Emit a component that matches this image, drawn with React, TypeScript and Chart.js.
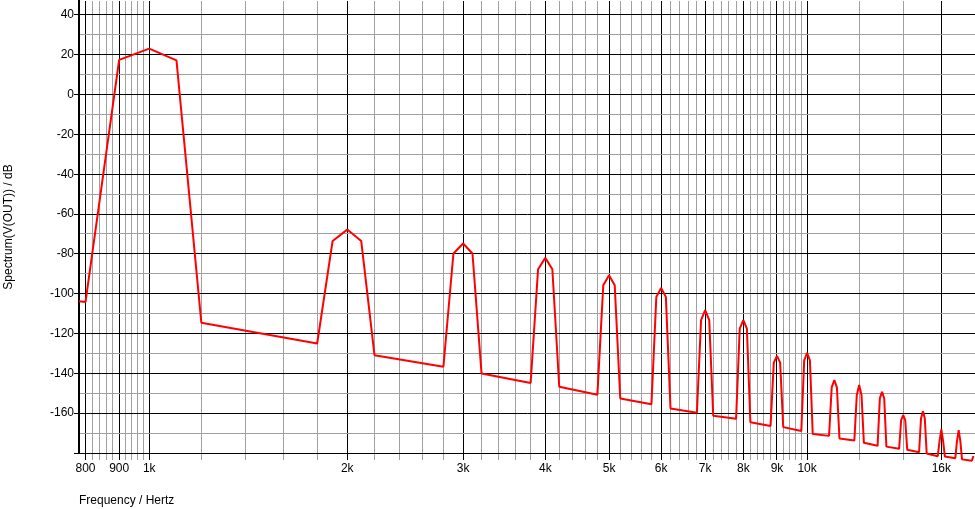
import React, { useEffect, useRef } from 'react';
import { Chart, registerables } from 'chart.js';

Chart.register(...registerables);

// Spectrum vertices (Hz, dB)
const freqHz = [
  700, 800, 900, 1000, 1100, 1200,
  1800, 1900, 2000, 2100, 2200,
  2800, 2900, 3000, 3100, 3200,
  3800, 3900, 4000, 4100, 4200,
  4800, 4900, 5000, 5100, 5200,
  5800, 5900, 6000, 6100, 6200,
  6800, 6900, 7000, 7100, 7200,
  7800, 7900, 8000, 8100, 8200,
  8800, 8900, 9000, 9100, 9200,
  9800, 9900, 10000, 10100, 10200,
  10800, 10900, 11000, 11100, 11200,
  11800, 11900, 12000, 12100, 12200,
  12800, 12900, 13000, 13100, 13200,
  13800, 13900, 14000, 14100, 14200,
  14800, 14900, 15000, 15100, 15200,
  15800, 15900, 16000, 16100, 16200,
  16800, 16900, 17000, 17100, 17200,
  17800, 17900,
];

const spectrumDb = [
  -101.5, -104.2, 17.4, 23.1, 17.2, -114.6,
  -125.0, -73.5, -67.8, -73.5, -130.9,
  -136.7, -79.8, -74.8, -79.8, -140.1,
  -144.8, -87.7, -82.0, -87.7, -146.7,
  -150.7, -95.7, -90.7, -95.7, -152.6,
  -155.5, -101.6, -97.1, -101.6, -157.6,
  -159.8, -113.3, -108.3, -113.3, -161.3,
  -162.8, -117.5, -113.3, -117.5, -164.6,
  -166.4, -134.6, -131.2, -134.6, -167.0,
  -168.9, -133.5, -129.7, -133.5, -170.4,
  -171.4, -147.0, -143.4, -147.0, -172.7,
  -173.7, -151.0, -145.9, -151.0, -174.9,
  -176.4, -152.6, -149.3, -152.6, -176.8,
  -177.9, -163.5, -161.0, -163.5, -178.4,
  -179.6, -162.7, -159.0, -162.7, -180.3,
  -181.6, -174.0, -168.2, -174.0, -181.8,
  -182.6, -174.0, -168.5, -174.0, -183.2,
  -183.9, -181.5,
];

// Axis definitions
const xMin = 782;
const xMax = 18000;
const xMajorTicks = [800, 900, 1000, 2000, 3000, 4000, 5000, 6000, 7000, 8000, 9000, 10000, 16000];
const xTickLabels = ['800', '900', '1k', '2k', '3k', '4k', '5k', '6k', '7k', '8k', '9k', '10k', '16k'];
const xMinorTicks = [
  820, 840, 860, 880, 920, 940, 960, 980,
  1200, 1400, 1600, 1800,
  2200, 2400, 2600, 2800, 3200, 3400, 3600, 3800,
  4200, 4400, 4600, 4800, 5200, 5400, 5600, 5800,
  6200, 6400, 6600, 6800, 7200, 7400, 7600, 7800,
  8200, 8400, 8600, 8800, 9200, 9400, 9600, 9800,
  12000, 14000,
];

const yMin = -180;
const yMax = 47;
const yGridValues = [40, 30, 20, 10, 0, -10, -20, -30, -40, -50, -60, -70, -80, -90, -100, -110, -120, -130, -140, -150, -160, -170, -180];
const yMajorValues = [40, 20, 0, -20, -40, -60, -80, -100, -120, -140, -160, -180];
const yTickLabels = ['40', '20', '0', '-20', '-40', '-60', '-80', '-100', '-120', '-140', '-160', ''];

const FONT = "'Liberation Sans', Arial, sans-serif";
const GRID_MINOR = '#a0a0a0';
const GRID_MAJOR = '#000000';

export default function App() {
  const canvasRef = useRef<HTMLCanvasElement | null>(null);

  useEffect(() => {
    const canvas = canvasRef.current;
    if (!canvas) return;

    const xLabelMap = new Map<number, string>();
    xMajorTicks.forEach((v, i) => xLabelMap.set(v, xTickLabels[i]));
    const yLabelMap = new Map<number, string>();
    yMajorValues.forEach((v, i) => yLabelMap.set(v, yTickLabels[i]));
    const xAll = [...xMajorTicks, ...xMinorTicks].sort((a, b) => a - b);

    const chart = new Chart(canvas, {
      type: 'line',
      data: {
        datasets: [
          {
            data: freqHz.map((f, i) => ({ x: f, y: spectrumDb[i] })),
            borderColor: '#ff0000',
            borderWidth: 2,
            pointRadius: 0,
            tension: 0,
            fill: false,
            borderJoinStyle: 'bevel',
            clip: { left: 0, top: 0, right: 0, bottom: 20 } as any,
          },
        ],
      },
      options: {
        animation: false,
        responsive: false,
        devicePixelRatio: 1,
        layout: { padding: { top: 1, right: 0, left: 0, bottom: 0 } },
        plugins: {
          legend: { display: false },
          tooltip: { enabled: false },
        },
        scales: {
          x: {
            type: 'logarithmic',
            min: xMin,
            max: xMax,
            afterBuildTicks: (scale: any) => {
              scale.ticks = xAll.map((v) => ({ value: v }));
            },
            afterFit: (scale: any) => {
              scale.height = 56;
              scale.paddingLeft = 0;
              scale.paddingRight = 0;
            },
            ticks: {
              autoSkip: false,
              maxRotation: 0,
              minRotation: 0,
              padding: 1,
              color: '#000',
              font: { family: FONT, size: 12 },
              callback: (value: any) => xLabelMap.get(Number(value)) ?? '',
            },
            grid: {
              color: (ctx: any) => (ctx.tick && xLabelMap.has(ctx.tick.value) ? GRID_MAJOR : GRID_MINOR),
              tickColor: (ctx: any) => (ctx.tick && xLabelMap.has(ctx.tick.value) ? GRID_MAJOR : GRID_MINOR),
              lineWidth: 1,
              tickLength: 7,
              drawTicks: true,
            },
            border: { display: true, color: '#000', width: 1 },
            title: {
              display: true,
              text: 'Frequency / Hertz',
              align: 'start',
              color: '#000',
              font: { family: FONT, size: 12 },
              padding: { top: 0, bottom: 1 },
            },
          },
          y: {
            type: 'linear',
            min: yMin,
            max: yMax,
            afterBuildTicks: (scale: any) => {
              scale.ticks = yGridValues.map((v) => ({ value: v }));
            },
            afterFit: (scale: any) => {
              scale.width = 79;
              scale.paddingTop = 0;
              scale.paddingBottom = 0;
            },
            ticks: {
              autoSkip: false,
              padding: 0,
              color: '#000',
              font: { family: FONT, size: 12 },
              callback: (value: any) => yLabelMap.get(Number(value)) ?? '',
            },
            grid: {
              color: (ctx: any) => (ctx.tick && yLabelMap.has(ctx.tick.value) ? GRID_MAJOR : GRID_MINOR),
              tickColor: (ctx: any) => (ctx.tick && yLabelMap.has(ctx.tick.value) ? GRID_MAJOR : 'rgba(0,0,0,0)'),
              lineWidth: 1,
              tickLength: 5,
            },
            border: { display: true, color: '#000', width: 2 },
            title: {
              display: true,
              text: 'Spectrum(V(OUT)) / dB',
              color: '#000',
              font: { family: FONT, size: 12 },
              padding: { top: 1, bottom: 0 },
            },
          },
        },
      },
    } as any);

    return () => {
      chart.destroy();
    };
  }, []);

  return (
    <div style={{ position: 'fixed', left: 0, top: 0, width: 975, height: 509, background: '#fff' }}>
      <canvas ref={canvasRef} width={975} height={509} style={{ display: 'block', width: 975, height: 509 }} />
    </div>
  );
}
